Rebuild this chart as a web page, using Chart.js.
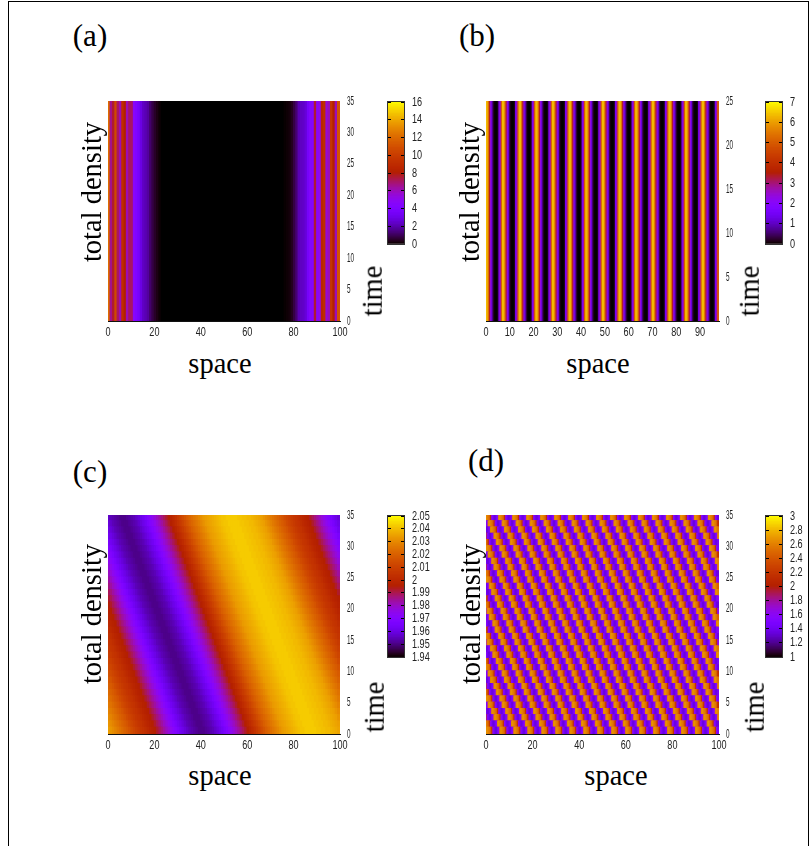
<!DOCTYPE html>
<html><head><meta charset="utf-8">
<script src="https://cdn.jsdelivr.net/npm/chart.js@4"></script>
<style>
html,body{margin:0;padding:0;background:#fff;overflow:hidden;width:809px;height:846px}
#frame{position:absolute;left:8px;top:1px;width:799px;height:845px;border:1px solid #000;box-sizing:content-box}
canvas{position:absolute}
.t{position:absolute;font-family:"Liberation Serif","Times New Roman",serif;color:#000;white-space:nowrap;transform:translate(-50%,-50%);font-size:28.5px;line-height:1}
.r{transform:translate(-50%,-50%) rotate(-90deg)}
.p{font-size:31px}
</style></head><body>
<div id="frame"></div>
<script>
const panelLetters=['(a)','(b)','(c)','(d)'];
const spaceLabel='space', densityLabel='total density', timeLabel='time';

// (a) time-independent density across space, one value per unit cell
const densityA=[12,6.5,7.5,10.5,7,6,9,8,6,7,7,4.5,4,3.5,2.8,2.2,2,1.7,1.1,.7,.4,.2,.05,0,0,0,0,0,0,0,
0,0,0,0,0,0,0,0,0,0,0,0,0,0,0,0,0,0,0,0,0,0,0,0,0,0,0,0,0,0,
0,0,0,0,0,0,0,0,0,0,0,0,0,0,0,0,.02,.05,.1,.3,.7,1.2,2,2.2,2.3,2.6,3.5,4.2,4.2,7.5,4.5,5,8.5,9,5.5,6,9.5,8,6,11];

// (b) time-independent density, half-unit cells, 14 stripes
const densityB=[
6.3,6.3,5.4,3.3,2.3,1.1,.3,.02,0,0,.1,1.5,2.6,5,
6.3,6.3,5.4,3.3,2.3,1.1,.3,.02,0,0,.1,1.5,2.6,5,
6.3,6.3,5.4,3.3,2.3,1.1,.3,.02,0,0,.1,1.5,2.6,5,
6.3,6.3,5.4,3.3,2.3,1.1,.3,.02,0,0,.1,1.5,2.6,5,
6.3,6.3,5.4,3.3,2.3,1.1,.3,.02,0,0,.1,1.5,2.6,5,
6.3,6.3,5.4,3.3,2.3,1.1,.3,.02,0,0,.1,1.5,2.6,5,
6.3,6.3,5.4,3.3,2.3,1.1,.3,.02,0,0,.1,1.5,2.6,5,
6.3,6.3,5.4,3.3,2.3,1.1,.3,.02,0,0,.1,1.5,2.6,5,
6.3,6.3,5.4,3.3,2.3,1.1,.3,.02,0,0,.1,1.5,2.6,5,
6.3,6.3,5.4,3.3,2.3,1.1,.3,.02,0,0,.1,1.5,2.6,5,
6.3,6.3,5.4,3.3,2.3,1.1,.3,.02,0,0,.1,1.5,2.6,5,
6.3,6.3,5.4,3.3,2.3,1.1,.3,.02,0,0,.1,1.5,2.6,5,
6.3,6.3,5.4,3.3,2.3,1.1,.3,.02,0,0,.1,1.5,2.6,5,
6.3,6.3,5.4,3.3,2.3,1.1,.3,.02,0,0,.1,1.5,2.6,5];

// (c) density across space at time 0, and how far the wave has moved at each time step
const waveC=[2.034,2.032,2.03,2.028,2.026,2.024,2.022,2.02,2.018,2.016,2.013,2.011,2.009,2.007,2.005,2.004,2.002,2,1.998,1.996,
1.995,1.992,1.989,1.986,1.983,1.98,1.977,1.974,1.971,1.968,1.965,1.962,1.96,1.958,1.956,1.954,1.953,1.952,1.951,1.95,
1.95,1.95,1.951,1.952,1.953,1.954,1.956,1.958,1.96,1.962,1.965,1.968,1.971,1.974,1.977,1.98,1.983,1.986,1.989,1.992,
1.995,1.998,2.001,2.004,2.007,2.01,2.013,2.016,2.019,2.021,2.023,2.025,2.027,2.029,2.031,2.033,2.034,2.035,2.036,2.037,
2.038,2.039,2.04,2.041,2.041,2.042,2.042,2.042,2.042,2.042,2.041,2.041,2.04,2.04,2.039,2.039,2.038,2.037,2.036,2.035];
const shiftC=[0,1,2,3,4,5,6,7,8,9,10,11,12,13,14,15,16,17,18,19,20,21,22,23,24,25,26,27,28,29,30,31,32,33,34];

// (d) one spatial period of the density in half-unit cells, and the wave displacement at each time step
const waveD=[2.62,2.66,2.6,2.55,2.45,2.15,1.6,1.45,1.35,1.35,1.45,1.6];
const shiftD=[0,2,5,7,10,12,15,17,20,22,25,27,30,32,35,37,40,42,45,47,50,52,55,57,60,62,65,67,70,72,75,77,80,82,85];

const xTicksA=[0,100,20], xTicksB=[0,98,10];
const timeMaxA=35, timeMaxB=25, timeStepA=5;
const barRangeA=[0,16,2], barRangeB=[0,7,1], barRangeC=[1.94,2.05,.01], barRangeD=[1,3,.2];

const tickFont={family:'"Liberation Sans",sans-serif',size:13};
const tickNarrow=.7;
Chart.defaults.animation=false;
Chart.defaults.devicePixelRatio=1;

function palette(x){
  x=Math.min(1,Math.max(0,x));
  const r=Math.sqrt(x),g=x*x*x,b=Math.max(0,Math.sin(2*Math.PI*x));
  return `rgb(${Math.round(r*255)},${Math.round(g*255)},${Math.round(b*255)})`;
}
// the reference's tick labels are horizontally condensed
function condensed(scale){
  const draw=scale.drawLabels;
  scale.drawLabels=function(area){
    const ctx=this.ctx,fill=ctx.fillText;
    ctx.fillText=function(t,x,y,m){ctx.save();ctx.translate(x,y);ctx.scale(tickNarrow,1);fill.call(ctx,t,0,0);ctx.restore();};
    draw.call(this,area);
    delete ctx.fillText;
  };
}
function fixed(s,w,h){
  if(w)s.width=w; if(h)s.height=h;
  s.paddingTop=s.paddingBottom=s.paddingLeft=s.paddingRight=0;
}
function makeCanvas(l,t,w,h){
  const c=document.createElement('canvas');
  c.width=w;c.height=h;c.style.left=l+'px';c.style.top=t+'px';c.style.width=w+'px';c.style.height=h+'px';
  document.body.appendChild(c);return c;
}
function heatmap(box,xt,tMax,datasets){
  const [L,T,W,H]=box;
  const c=makeCanvas(L-12,T-10,W+38,H+30);
  new Chart(c,{type:'bar',data:{datasets},options:{
    responsive:false,animation:false,
    layout:{padding:{left:12,top:10,right:0,bottom:0}},
    plugins:{legend:{display:false},tooltip:{enabled:false}},
    datasets:{bar:{grouped:false,barPercentage:1,categoryPercentage:1,borderWidth:0}},
    scales:{
      x:{type:'linear',offset:false,min:xt[0],max:xt[1],afterFit(s){fixed(s,0,20);},afterUpdate:condensed,
         grid:{display:false,drawTicks:false,offset:false},border:{display:true,color:'#111',z:2},
         ticks:{stepSize:xt[2],includeBounds:false,autoSkip:false,maxRotation:0,padding:4,font:tickFont,color:'#222'}},
      y:{type:'linear',position:'right',min:0,max:tMax,afterFit(s){fixed(s,26,0);},afterUpdate:condensed,
         grid:{display:false,drawTicks:false},border:{display:false},
         ticks:{stepSize:timeStepA,autoSkip:false,padding:7,font:tickFont,color:'#222'}}
    }}});
}
function stripes(values,cell,tMax,lo,hi,W,xMax){
  return [{data:values.map((v,i)=>({x:(i+.5)*cell,y:[0,tMax]})),
    backgroundColor:values.map(v=>palette((v-lo)/(hi-lo))),
    barThickness:W*cell/xMax+.7}];
}
function waveRows(wave,shift,cell,lo,hi,W){
  const xs=[...Array(Math.round(100/cell)).keys()];
  return shift.map((s,t)=>({
    data:xs.map(i=>({x:(i+.5)*cell,y:[t,t+1.1]})),
    backgroundColor:xs.map(i=>palette((wave[(i+s)%wave.length]-lo)/(hi-lo))),
    barThickness:W*cell/100+.7}));
}
const framePlugin={id:'frame',afterDraw(ch){const a=ch.chartArea,x=ch.ctx;x.save();x.strokeStyle='#333';x.lineWidth=1;
  x.strokeRect(Math.round(a.left)-.5,Math.round(a.top)-.5,Math.round(a.right-a.left)+1,Math.round(a.bottom-a.top)+1);x.restore();}};
function colorbar(box,range){
  const [L,T,W,H]=box,[lo,hi,step]=range,n=96,datasets=[];
  for(let k=0;k<n;k++){
    const a=lo+(hi-lo)*k/n,b=lo+(hi-lo)*(k+1.3)/n;
    datasets.push({data:[{x:'cb',y:[a,Math.min(b,hi)]}],backgroundColor:palette((k+.5)/n),barThickness:W+2});
  }
  const c=makeCanvas(L-4,T-8,W+4+27,H+16);
  new Chart(c,{type:'bar',data:{labels:['cb'],datasets},plugins:[framePlugin],options:{
    responsive:false,animation:false,
    layout:{padding:{left:4,top:8,bottom:8,right:0}},
    plugins:{legend:{display:false},tooltip:{enabled:false}},
    datasets:{bar:{grouped:false,barPercentage:1,categoryPercentage:1,borderWidth:0}},
    scales:{
      x:{type:'category',display:false},
      y:{type:'linear',position:'right',min:lo,max:hi,afterFit(s){fixed(s,27,0);},afterUpdate:condensed,
         grid:{color:'#000',drawTicks:false,z:1},border:{display:false,dash:[3,W-6,3]},
         ticks:{stepSize:step,includeBounds:true,autoSkip:false,padding:8,font:tickFont,color:'#222',
                callback:v=>String(+(+v).toFixed(2))}}
    }}});
}
function label(text,x,y,cls){
  const s=document.createElement('span');s.className='t '+(cls||'');s.textContent=text;
  s.style.left=x+'px';s.style.top=y+'px';document.body.appendChild(s);
}

heatmap([108,101,232,220],xTicksA,timeMaxA,stripes(densityA,1,timeMaxA,0,16,232,100));
heatmap([486,101,233,220],xTicksB,timeMaxB,stripes(densityB,.5,timeMaxB,0,7,233,98));
heatmap([108,515,232,219],xTicksA,timeMaxA,waveRows(waveC,shiftC,1,1.94,2.05,232));
heatmap([486,515,233,219],xTicksA,timeMaxA,waveRows(waveD,shiftD,.5,1,3,233));

colorbar([388,102,16,142],barRangeA);
colorbar([766,102,16,142],barRangeB);
colorbar([388,516,16,141],barRangeC);
colorbar([766,516,16,141],barRangeD);

[[90,35],[477,35],[90,471],[486,460]].forEach((p,i)=>label(panelLetters[i],p[0],p[1],'p'));
[[220,364],[598,364],[220,776],[616,776]].forEach(p=>label(spaceLabel,p[0],p[1]));
[[92,192],[470,192],[92,614],[471,614]].forEach(p=>label(densityLabel,p[0],p[1],'r'));
[[373,291],[750,291],[375,707],[755,707]].forEach(p=>label(timeLabel,p[0],p[1],'r'));
</script>
</body></html>
